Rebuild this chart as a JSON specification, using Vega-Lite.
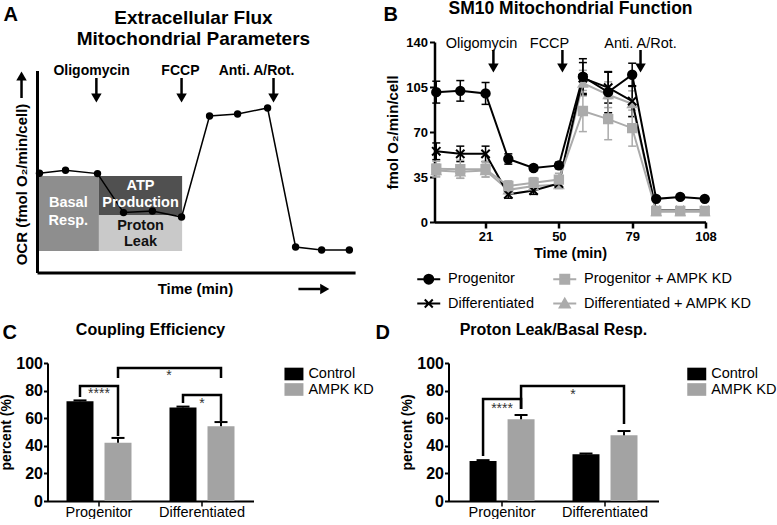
{
  "$schema": "https://vega.github.io/schema/vega-lite/v6.json",
  "background": "white",
  "padding": {"left": -0.5, "top": 0, "right": 0, "bottom": 0},
  "config": {
    "font": "Liberation Sans",
    "view": {"stroke": null},
    "mark": {"opacity": 1},
    "point": {"opacity": 1},
    "bar": {"opacity": 1},
    "tick": {"opacity": 1},
    "axis": {"domainColor": "#000", "tickColor": "#000", "labelColor": "#000", "titleColor": "#000", "grid": false, "labelFont": "Liberation Sans", "titleFont": "Liberation Sans", "labelOverlap": false},
    "legend": {"labelFont": "Liberation Sans", "labelColor": "#000", "padding": 0},
    "title": {"font": "Liberation Sans", "color": "#000"},
    "text": {"font": "Liberation Sans", "color": "#000"}
  },
  "datasets": {
    "aCurve": [
      {"time": 0.7, "ocr": 49.9}, {"time": 9.9, "ocr": 51.4}, {"time": 21.2, "ocr": 49.7},
      {"time": 30.4, "ocr": 30.2}, {"time": 40.6, "ocr": 31}, {"time": 50.9, "ocr": 28},
      {"time": 60.8, "ocr": 78.5}, {"time": 70.7, "ocr": 79.5}, {"time": 81.3, "ocr": 82.5},
      {"time": 91.2, "ocr": 13}, {"time": 100.4, "ocr": 11.5}, {"time": 110.2, "ocr": 11.5}
    ],
    "aBoxes": [
      {"part": "Basal Resp.", "t0": 0.1, "t1": 21.7, "o0": 11, "o1": 48.5},
      {"part": "ATP Production", "t0": 21.7, "t1": 51.1, "o0": 29, "o1": 48.5},
      {"part": "Proton Leak", "t0": 21.7, "t1": 51.1, "o0": 11, "o1": 29}
    ],
    "aBoxTextLight": [
      {"text": "Basal", "time": 10.9, "ocr": 35}, {"text": "Resp.", "time": 10.9, "ocr": 26},
      {"text": "ATP", "time": 36.4, "ocr": 43.5}, {"text": "Production", "time": 36.4, "ocr": 35}
    ],
    "aBoxTextDark": [
      {"text": "Proton", "time": 36.4, "ocr": 23.5}, {"text": "Leak", "time": 36.4, "ocr": 15.5}
    ],
    "aAxisLines": [
      {"t0": 0, "t1": 0, "o0": 0, "o1": 101},
      {"t0": 0, "t1": 112.4, "o0": 0, "o1": 0}
    ],
    "aShafts": [
      {"time": 20.8, "time2": 20.8, "ocr": 97.5, "ocr2": 89},
      {"time": 50.9, "time2": 50.9, "ocr": 97.5, "ocr2": 89},
      {"time": 83.4, "time2": 83.4, "ocr": 97.5, "ocr2": 89},
      {"time": -5.65, "time2": -5.65, "ocr": 87.5, "ocr2": 97},
      {"time": 92.2, "time2": 100, "ocr": -8, "ocr2": -8}
    ],
    "aHeads": [
      {"dir": "down", "time": 20.8, "ocr": 87.5}, {"dir": "down", "time": 50.9, "ocr": 87.5},
      {"dir": "down", "time": 83.4, "ocr": 87.5}, {"dir": "up", "time": -5.65, "ocr": 98.5},
      {"dir": "right", "time": 101.5, "ocr": -8}
    ],
    "aDrugText": [
      {"text": "Oligomycin", "time": 19.1, "ocr": 99}, {"text": "FCCP", "time": 50.5, "ocr": 99},
      {"text": "Anti. A/Rot.", "time": 77.4, "ocr": 99}
    ],
    "aTitle": [
      {"text": "Extracellular Flux", "time": 55.1, "ocr": 124.5},
      {"text": "Mitochondrial Parameters", "time": 55.1, "ocr": 114}
    ],
    "aYTitle": [{"text": "OCR (fmol O₂/min/cell)", "time": -5.65, "ocr": 44.25}],
    "aXTitle": [{"text": "Time (min)", "time": 55.8, "ocr": -8}],
    "aLetters": [{"text": "A", "time": -12, "ocr": 126.25}, {"text": "C", "time": -12.4, "ocr": -33}],
    "bSeries": [
      {"series": "Differentiated + AMPK KD", "time": 1.5, "ocr": 40, "sem": 5},
      {"series": "Differentiated + AMPK KD", "time": 11, "ocr": 39, "sem": 5},
      {"series": "Differentiated + AMPK KD", "time": 21, "ocr": 40, "sem": 5},
      {"series": "Differentiated + AMPK KD", "time": 30, "ocr": 25, "sem": 3},
      {"series": "Differentiated + AMPK KD", "time": 40, "ocr": 28, "sem": 3},
      {"series": "Differentiated + AMPK KD", "time": 50, "ocr": 29, "sem": 3},
      {"series": "Differentiated + AMPK KD", "time": 59.5, "ocr": 108, "sem": 10},
      {"series": "Differentiated + AMPK KD", "time": 69.5, "ocr": 99, "sem": 10},
      {"series": "Differentiated + AMPK KD", "time": 79, "ocr": 92, "sem": 10},
      {"series": "Differentiated + AMPK KD", "time": 88.5, "ocr": 8, "sem": 1},
      {"series": "Differentiated + AMPK KD", "time": 98, "ocr": 8, "sem": 1},
      {"series": "Differentiated + AMPK KD", "time": 107.7, "ocr": 8, "sem": 1},
      {"series": "Differentiated", "time": 1.5, "ocr": 55, "sem": 6.5},
      {"series": "Differentiated", "time": 11, "ocr": 53, "sem": 6},
      {"series": "Differentiated", "time": 21, "ocr": 53, "sem": 6},
      {"series": "Differentiated", "time": 30, "ocr": 21.5, "sem": 3},
      {"series": "Differentiated", "time": 40, "ocr": 24.5, "sem": 3},
      {"series": "Differentiated", "time": 50, "ocr": 30, "sem": 3},
      {"series": "Differentiated", "time": 59.5, "ocr": 112, "sem": 12},
      {"series": "Differentiated", "time": 69.5, "ocr": 104.5, "sem": 12},
      {"series": "Differentiated", "time": 79, "ocr": 94, "sem": 12},
      {"series": "Differentiated", "time": 88.5, "ocr": 9, "sem": 1},
      {"series": "Differentiated", "time": 98, "ocr": 9, "sem": 1},
      {"series": "Differentiated", "time": 107.7, "ocr": 9, "sem": 1},
      {"series": "Progenitor", "time": 1.5, "ocr": 101, "sem": 8.5},
      {"series": "Progenitor", "time": 11, "ocr": 102, "sem": 8},
      {"series": "Progenitor", "time": 21, "ocr": 100, "sem": 8.5},
      {"series": "Progenitor", "time": 30, "ocr": 49, "sem": 4},
      {"series": "Progenitor", "time": 40, "ocr": 42, "sem": 2},
      {"series": "Progenitor", "time": 50, "ocr": 44, "sem": 2.5},
      {"series": "Progenitor", "time": 59.5, "ocr": 113, "sem": 14},
      {"series": "Progenitor", "time": 69.5, "ocr": 101, "sem": 16},
      {"series": "Progenitor", "time": 79, "ocr": 114.5, "sem": 9},
      {"series": "Progenitor", "time": 88.5, "ocr": 18, "sem": 1.5},
      {"series": "Progenitor", "time": 98, "ocr": 19.5, "sem": 1.5},
      {"series": "Progenitor", "time": 107.7, "ocr": 18, "sem": 1.5},
      {"series": "Progenitor + AMPK KD", "time": 1.5, "ocr": 41.5, "sem": 5.8},
      {"series": "Progenitor + AMPK KD", "time": 11, "ocr": 41, "sem": 7},
      {"series": "Progenitor + AMPK KD", "time": 21, "ocr": 41, "sem": 6},
      {"series": "Progenitor + AMPK KD", "time": 30, "ocr": 28, "sem": 4},
      {"series": "Progenitor + AMPK KD", "time": 40, "ocr": 30.5, "sem": 4},
      {"series": "Progenitor + AMPK KD", "time": 50, "ocr": 33, "sem": 5},
      {"series": "Progenitor + AMPK KD", "time": 59.5, "ocr": 86.3, "sem": 16},
      {"series": "Progenitor + AMPK KD", "time": 69.5, "ocr": 80, "sem": 16},
      {"series": "Progenitor + AMPK KD", "time": 79, "ocr": 73, "sem": 14},
      {"series": "Progenitor + AMPK KD", "time": 88.5, "ocr": 8.6, "sem": 2},
      {"series": "Progenitor + AMPK KD", "time": 98, "ocr": 8.6, "sem": 2},
      {"series": "Progenitor + AMPK KD", "time": 107.7, "ocr": 8.6, "sem": 2}
    ],
    "bDrugs": [{"drug": "Oligomycin", "time": 24.1}, {"drug": "FCCP", "time": 51.4}, {"drug": "Anti. A/Rot.", "time": 82.3}],
    "bDrugText": [{"text": "Oligomycin", "time": 19.4}, {"text": "FCCP", "time": 46.3}, {"text": "Anti. A/Rot.", "time": 82.3}],
    "bTitle": [{"text": "SM10 Mitochondrial Function", "time": 54.6, "ocr": 161.7}],
    "bLetters": [{"text": "B", "time": -19.4, "ocr": 156.7}, {"text": "D", "time": -22.5, "ocr": -91}],
    "cBars": [
      {"group": "Progenitor", "cond": "Control", "v": 72.3, "hi": 72.9},
      {"group": "Progenitor", "cond": "AMPK KD", "v": 42.2, "hi": 45.7},
      {"group": "Differentiated", "cond": "Control", "v": 67.8, "hi": 68.4},
      {"group": "Differentiated", "cond": "AMPK KD", "v": 54.2, "hi": 57.2}
    ],
    "dBars": [
      {"group": "Progenitor", "cond": "Control", "v": 29, "hi": 29.6},
      {"group": "Progenitor", "cond": "AMPK KD", "v": 59.2, "hi": 62.3},
      {"group": "Differentiated", "cond": "Control", "v": 33.8, "hi": 34.4},
      {"group": "Differentiated", "cond": "AMPK KD", "v": 47.6, "hi": 50.7}
    ],
    "cBrackets": [
      {"br": 1, "k": 1, "group": "Progenitor", "cond": "Control", "v": 75.4},
      {"br": 1, "k": 2, "group": "Progenitor", "cond": "Control", "v": 83.3},
      {"br": 1, "k": 3, "group": "Progenitor", "cond": "AMPK KD", "v": 83.3},
      {"br": 1, "k": 4, "group": "Progenitor", "cond": "AMPK KD", "v": 47.1},
      {"br": 2, "k": 1, "group": "Progenitor", "cond": "AMPK KD", "v": 89.1},
      {"br": 2, "k": 2, "group": "Progenitor", "cond": "AMPK KD", "v": 96.4},
      {"br": 2, "k": 3, "group": "Differentiated", "cond": "AMPK KD", "v": 96.4},
      {"br": 2, "k": 4, "group": "Differentiated", "cond": "AMPK KD", "v": 89.1},
      {"br": 3, "k": 1, "group": "Differentiated", "cond": "Control", "v": 71},
      {"br": 3, "k": 2, "group": "Differentiated", "cond": "Control", "v": 76.8},
      {"br": 3, "k": 3, "group": "Differentiated", "cond": "AMPK KD", "v": 76.8},
      {"br": 3, "k": 4, "group": "Differentiated", "cond": "AMPK KD", "v": 58}
    ],
    "dBrackets": [
      {"br": 1, "k": 1, "group": "Progenitor", "cond": "Control", "v": 32.6},
      {"br": 1, "k": 2, "group": "Progenitor", "cond": "Control", "v": 73.9},
      {"br": 1, "k": 3, "group": "Progenitor", "cond": "AMPK KD", "v": 73.9},
      {"br": 1, "k": 4, "group": "Progenitor", "cond": "AMPK KD", "v": 66.7},
      {"br": 2, "k": 1, "group": "Progenitor", "cond": "AMPK KD", "v": 66.7},
      {"br": 2, "k": 2, "group": "Progenitor", "cond": "AMPK KD", "v": 83.3},
      {"br": 2, "k": 3, "group": "Differentiated", "cond": "AMPK KD", "v": 83.3},
      {"br": 2, "k": 4, "group": "Differentiated", "cond": "AMPK KD", "v": 55.8}
    ],
    "cStars": [{"group": "Progenitor", "text": "****", "v": 77.6}, {"group": "Differentiated", "text": "*", "v": 70.2}],
    "cStarsX": [{"group": "Differentiated", "cond": "Control", "text": "*", "v": 90.7}],
    "dStars": [{"group": "Progenitor", "text": "****", "v": 66.8}],
    "dStarsX": [{"group": "Differentiated", "cond": "Control", "text": "*", "v": 76.9}]
  },
  "vconcat": [
    {
      "hconcat": [
        {
          "width": 308,
          "height": 231,
          "layer": [
            {
              "data": {"name": "aBoxes"},
              "mark": {"type": "rect"},
              "encoding": {
                "x": {"field": "t0", "type": "quantitative", "scale": {"domain": [3.53, 112.37], "nice": false, "zero": false}, "axis": null},
                "x2": {"field": "t1"},
                "y": {"field": "o0", "type": "quantitative", "scale": {"domain": [0, 115.5], "nice": false, "zero": false}, "axis": null},
                "y2": {"field": "o1"},
                "color": {"field": "part", "type": "nominal", "scale": {"domain": ["Basal Resp.", "ATP Production", "Proton Leak"], "range": ["#8e8e8e", "#505050", "#c9c9c9"]}, "legend": null}
              }
            },
            {
              "data": {"name": "aAxisLines"},
              "mark": {"type": "rule", "color": "#000", "strokeWidth": 3},
              "encoding": {
                "x": {"field": "t0", "type": "quantitative", "scale": {"domain": [3.53, 112.37], "nice": false, "zero": false}, "axis": null},
                "x2": {"field": "t1"},
                "y": {"field": "o0", "type": "quantitative", "scale": {"domain": [0, 115.5], "nice": false, "zero": false}, "axis": null},
                "y2": {"field": "o1"}
              }
            },
            {
              "data": {"name": "aCurve"},
              "mark": {"type": "line", "color": "#000", "strokeWidth": 1.5},
              "encoding": {
                "x": {"field": "time", "type": "quantitative", "scale": {"domain": [3.53, 112.37], "nice": false, "zero": false}, "axis": null},
                "y": {"field": "ocr", "type": "quantitative", "scale": {"domain": [0, 115.5], "nice": false, "zero": false}, "axis": null}
              }
            },
            {
              "data": {"name": "aCurve"},
              "mark": {"type": "point", "shape": "circle", "filled": true, "color": "#000", "size": 55, "opacity": 1},
              "encoding": {
                "x": {"field": "time", "type": "quantitative", "scale": {"domain": [3.53, 112.37], "nice": false, "zero": false}, "axis": null},
                "y": {"field": "ocr", "type": "quantitative", "scale": {"domain": [0, 115.5], "nice": false, "zero": false}, "axis": null}
              }
            },
            {
              "data": {"name": "aShafts"},
              "mark": {"type": "rule", "color": "#000", "strokeWidth": 2.5},
              "encoding": {
                "x": {"field": "time", "type": "quantitative", "scale": {"domain": [3.53, 112.37], "nice": false, "zero": false}, "axis": null},
                "x2": {"field": "time2"},
                "y": {"field": "ocr", "type": "quantitative", "scale": {"domain": [0, 115.5], "nice": false, "zero": false}, "axis": null},
                "y2": {"field": "ocr2"}
              }
            },
            {
              "data": {"name": "aHeads"},
              "mark": {"type": "point", "filled": true, "color": "#000", "size": 110, "opacity": 1},
              "encoding": {
                "x": {"field": "time", "type": "quantitative", "scale": {"domain": [3.53, 112.37], "nice": false, "zero": false}, "axis": null},
                "y": {"field": "ocr", "type": "quantitative", "scale": {"domain": [0, 115.5], "nice": false, "zero": false}, "axis": null},
                "shape": {"field": "dir", "type": "nominal", "scale": {"domain": ["down", "up", "right"], "range": ["triangle-down", "triangle-up", "triangle-right"]}, "legend": null}
              }
            },
            {
              "data": {"name": "aBoxTextLight"},
              "mark": {"type": "text", "fontSize": 14.5, "fontWeight": "bold", "color": "#ffffff", "align": "center", "baseline": "middle"},
              "encoding": {
                "x": {"field": "time", "type": "quantitative", "scale": {"domain": [3.53, 112.37], "nice": false, "zero": false}, "axis": null},
                "y": {"field": "ocr", "type": "quantitative", "scale": {"domain": [0, 115.5], "nice": false, "zero": false}, "axis": null},
                "text": {"field": "text"}
              }
            },
            {
              "data": {"name": "aBoxTextDark"},
              "mark": {"type": "text", "fontSize": 14.5, "fontWeight": "bold", "color": "#111111", "align": "center", "baseline": "middle"},
              "encoding": {
                "x": {"field": "time", "type": "quantitative", "scale": {"domain": [3.53, 112.37], "nice": false, "zero": false}, "axis": null},
                "y": {"field": "ocr", "type": "quantitative", "scale": {"domain": [0, 115.5], "nice": false, "zero": false}, "axis": null},
                "text": {"field": "text"}
              }
            },
            {
              "data": {"name": "aDrugText"},
              "mark": {"type": "text", "fontSize": 14, "fontWeight": "bold", "align": "center", "baseline": "alphabetic"},
              "encoding": {
                "x": {"field": "time", "type": "quantitative", "scale": {"domain": [3.53, 112.37], "nice": false, "zero": false}, "axis": null},
                "y": {"field": "ocr", "type": "quantitative", "scale": {"domain": [0, 115.5], "nice": false, "zero": false}, "axis": null},
                "text": {"field": "text"}
              }
            },
            {
              "data": {"name": "aTitle"},
              "mark": {"type": "text", "fontSize": 19, "fontWeight": "bold", "align": "center", "baseline": "alphabetic"},
              "encoding": {
                "x": {"field": "time", "type": "quantitative", "scale": {"domain": [3.53, 112.37], "nice": false, "zero": false}, "axis": null},
                "y": {"field": "ocr", "type": "quantitative", "scale": {"domain": [0, 115.5], "nice": false, "zero": false}, "axis": null},
                "text": {"field": "text"}
              }
            },
            {
              "data": {"name": "aYTitle"},
              "mark": {"type": "text", "fontSize": 15, "fontWeight": "bold", "align": "center", "baseline": "middle", "angle": 270},
              "encoding": {
                "x": {"field": "time", "type": "quantitative", "scale": {"domain": [3.53, 112.37], "nice": false, "zero": false}, "axis": null},
                "y": {"field": "ocr", "type": "quantitative", "scale": {"domain": [0, 115.5], "nice": false, "zero": false}, "axis": null},
                "text": {"field": "text"}
              }
            },
            {
              "data": {"name": "aXTitle"},
              "mark": {"type": "text", "fontSize": 15, "fontWeight": "bold", "align": "center", "baseline": "middle"},
              "encoding": {
                "x": {"field": "time", "type": "quantitative", "scale": {"domain": [3.53, 112.37], "nice": false, "zero": false}, "axis": null},
                "y": {"field": "ocr", "type": "quantitative", "scale": {"domain": [0, 115.5], "nice": false, "zero": false}, "axis": null},
                "text": {"field": "text"}
              }
            },
            {
              "data": {"name": "aLetters"},
              "mark": {"type": "text", "fontSize": 20, "fontWeight": "bold", "align": "left", "baseline": "alphabetic"},
              "encoding": {
                "x": {"field": "time", "type": "quantitative", "scale": {"domain": [3.53, 112.37], "nice": false, "zero": false}, "axis": null},
                "y": {"field": "ocr", "type": "quantitative", "scale": {"domain": [0, 115.5], "nice": false, "zero": false}, "axis": null},
                "text": {"field": "text"}
              }
            }
          ]
        },
        {
          "width": 271,
          "height": 180,
          "layer": [
            {
              "data": {"name": "bSeries"},
              "mark": {"type": "errorbar", "ticks": true, "size": 8, "thickness": 1.5},
              "encoding": {
                "x": {"field": "time", "type": "quantitative", "title": "Time (min)", "scale": {"domain": [0.8, 108], "nice": false, "zero": false}},
                "y": {"field": "ocr", "type": "quantitative", "title": "fmol O₂/min/cell", "scale": {"domain": [0, 140], "nice": false, "zero": false}},
                "yError": {"field": "sem"},
                "color": {"field": "series", "type": "nominal", "scale": {"domain": ["Progenitor", "Progenitor + AMPK KD", "Differentiated", "Differentiated + AMPK KD"], "range": ["#000000", "#ababab", "#000000", "#ababab"]}, "legend": null}
              }
            },
            {
              "data": {"name": "bSeries"},
              "mark": {"type": "line", "strokeWidth": 2},
              "encoding": {
                "x": {"field": "time", "type": "quantitative", "title": "Time (min)", "scale": {"domain": [0.8, 108], "nice": false, "zero": false},
                  "axis": {"values": [21, 50, 79, 108], "title": "Time (min)", "titleFontSize": 14.5, "titleFontWeight": "bold", "labelFontSize": 13, "labelFontWeight": "bold", "domainWidth": 2.5, "tickWidth": 2.5, "tickSize": 6, "labelPadding": 2, "titlePadding": 3, "labelFlush": false}},
                "y": {"field": "ocr", "type": "quantitative", "title": "fmol O₂/min/cell", "scale": {"domain": [0, 140], "nice": false, "zero": false},
                  "axis": {"values": [0, 35, 70, 105, 140], "title": "fmol O₂/min/cell", "titleFontSize": 15, "titleFontWeight": "bold", "labelFontSize": 13, "labelFontWeight": "bold", "domainWidth": 2.5, "tickWidth": 2, "tickSize": 5, "labelPadding": 2, "titlePadding": 5}},
                "color": {"field": "series", "type": "nominal", "scale": {"domain": ["Progenitor", "Progenitor + AMPK KD", "Differentiated", "Differentiated + AMPK KD"], "range": ["#000000", "#ababab", "#000000", "#ababab"]}, "legend": null}
              }
            },
            {
              "data": {"name": "bSeries"},
              "mark": {"type": "point", "filled": true, "size": 70, "strokeWidth": 2, "opacity": 1},
              "encoding": {
                "x": {"field": "time", "type": "quantitative", "title": "Time (min)", "scale": {"domain": [0.8, 108], "nice": false, "zero": false}},
                "y": {"field": "ocr", "type": "quantitative", "title": "fmol O₂/min/cell", "scale": {"domain": [0, 140], "nice": false, "zero": false}},
                "fill": {"field": "series", "type": "nominal", "scale": {"domain": ["Progenitor", "Progenitor + AMPK KD", "Differentiated", "Differentiated + AMPK KD"], "range": ["#000000", "#ababab", "#000000", "#ababab"]}, "legend": null},
                "stroke": {"field": "series", "type": "nominal", "scale": {"domain": ["Progenitor", "Progenitor + AMPK KD", "Differentiated", "Differentiated + AMPK KD"], "range": ["#000000", "#ababab", "#000000", "#ababab"]}, "legend": null},
                "shape": {"field": "series", "type": "nominal", "scale": {"domain": ["Progenitor", "Progenitor + AMPK KD", "Differentiated", "Differentiated + AMPK KD"], "range": ["circle", "square", "M-1,-1L1,1M-1,1L1,-1", "triangle-up"]}, "legend": null}
              }
            },
            {
              "data": {"name": "bDrugs"},
              "mark": {"type": "rule", "color": "#000", "strokeWidth": 2.5},
              "encoding": {
                "x": {"field": "time", "type": "quantitative", "title": "Time (min)", "scale": {"domain": [0.8, 108], "nice": false, "zero": false}},
                "y": {"datum": 133.8, "type": "quantitative", "scale": {"domain": [0, 140], "nice": false, "zero": false}},
                "y2": {"datum": 122.1}
              }
            },
            {
              "data": {"name": "bDrugs"},
              "mark": {"type": "point", "shape": "triangle-down", "filled": true, "color": "#000", "size": 110, "opacity": 1},
              "encoding": {
                "x": {"field": "time", "type": "quantitative", "title": "Time (min)", "scale": {"domain": [0.8, 108], "nice": false, "zero": false}},
                "y": {"datum": 119.8, "type": "quantitative", "scale": {"domain": [0, 140], "nice": false, "zero": false}}
              }
            },
            {
              "data": {"name": "bDrugText"},
              "mark": {"type": "text", "fontSize": 14.5, "align": "center", "baseline": "alphabetic"},
              "encoding": {
                "x": {"field": "time", "type": "quantitative", "title": "Time (min)", "scale": {"domain": [0.8, 108], "nice": false, "zero": false}},
                "y": {"datum": 135.6, "type": "quantitative", "scale": {"domain": [0, 140], "nice": false, "zero": false}},
                "text": {"field": "text"}
              }
            },
            {
              "data": {"name": "bTitle"},
              "mark": {"type": "text", "fontSize": 17.5, "fontWeight": "bold", "align": "center", "baseline": "alphabetic"},
              "encoding": {
                "x": {"field": "time", "type": "quantitative", "title": "Time (min)", "scale": {"domain": [0.8, 108], "nice": false, "zero": false}},
                "y": {"field": "ocr", "type": "quantitative", "title": "fmol O₂/min/cell", "scale": {"domain": [0, 140], "nice": false, "zero": false}},
                "text": {"field": "text"}
              }
            },
            {
              "data": {"name": "bLetters"},
              "mark": {"type": "text", "fontSize": 20, "fontWeight": "bold", "align": "left", "baseline": "alphabetic"},
              "encoding": {
                "x": {"field": "time", "type": "quantitative", "title": "Time (min)", "scale": {"domain": [0.8, 108], "nice": false, "zero": false}},
                "y": {"field": "ocr", "type": "quantitative", "title": "fmol O₂/min/cell", "scale": {"domain": [0, 140], "nice": false, "zero": false}},
                "text": {"field": "text"}
              }
            },
            {
              "data": {"name": "bSeries"},
              "transform": [{"filter": "false"}],
              "mark": {"type": "point", "filled": true, "size": 100, "strokeWidth": 2, "opacity": 1},
              "encoding": {
                "x": {"field": "time", "type": "quantitative", "title": "Time (min)", "scale": {"domain": [0.8, 108], "nice": false, "zero": false}},
                "y": {"field": "ocr", "type": "quantitative", "title": "fmol O₂/min/cell", "scale": {"domain": [0, 140], "nice": false, "zero": false}},
                "fill": {"field": "series", "type": "nominal", "scale": {"domain": ["Progenitor", "Progenitor + AMPK KD", "Differentiated", "Differentiated + AMPK KD"], "range": ["#000000", "#ababab", "#000000", "#ababab"]},
                  "legend": {"title": null, "orient": "none", "legendX": -13, "legendY": 229.75, "direction": "horizontal", "columns": 2, "columnPadding": 14, "rowPadding": 6.5, "labelFontSize": 14.5, "labelOffset": 12, "labelLimit": 300, "symbolSize": 100, "symbolStrokeWidth": 2}},
                "stroke": {"field": "series", "type": "nominal", "scale": {"domain": ["Progenitor", "Progenitor + AMPK KD", "Differentiated", "Differentiated + AMPK KD"], "range": ["#000000", "#ababab", "#000000", "#ababab"]},
                  "legend": {"title": null, "orient": "none", "legendX": -13, "legendY": 229.75, "direction": "horizontal", "columns": 2, "columnPadding": 14, "rowPadding": 6.5, "labelFontSize": 14.5, "labelOffset": 12, "labelLimit": 300, "symbolSize": 100, "symbolStrokeWidth": 2}},
                "shape": {"field": "series", "type": "nominal", "scale": {"domain": ["Progenitor", "Progenitor + AMPK KD", "Differentiated", "Differentiated + AMPK KD"], "range": ["M-2.3,0H2.3M0.9,0A0.9,0.9,0,1,1,-0.9,0A0.9,0.9,0,1,1,0.9,0Z", "M-2.3,0H2.3M-0.9,-0.9H0.9V0.9H-0.9Z", "M-2.3,0H2.3M-0.8,-0.8L0.8,0.8M-0.8,0.8L0.8,-0.8", "M-2.3,0H2.3M0,-0.95L1,0.8H-1Z"]},
                  "legend": {"title": null, "orient": "none", "legendX": -13, "legendY": 229.75, "direction": "horizontal", "columns": 2, "columnPadding": 14, "rowPadding": 6.5, "labelFontSize": 14.5, "labelOffset": 12, "labelLimit": 300, "symbolSize": 100, "symbolStrokeWidth": 2}}
              }
            }
          ],
          "resolve": {"scale": {"fill": "independent", "stroke": "independent", "shape": "independent"}}
        }
      ],
      "spacing": 79,
      "bounds": "flush",
      "resolve": {"scale": {"color": "independent", "fill": "independent", "stroke": "independent", "shape": "independent"}}
    },
    {
      "hconcat": [
        {
          "width": 206,
          "height": 138,
          "title": {"text": "Coupling Efficiency", "fontSize": 16, "fontWeight": "bold", "frame": "group", "offset": 17, "anchor": "middle"},
          "layer": [
            {
              "data": {"name": "cBars"},
              "mark": {"type": "bar", "opacity": 1},
              "encoding": {
                "x": {"field": "group", "type": "nominal", "scale": {"domain": ["Progenitor", "Differentiated"], "paddingInner": 0, "paddingOuter": 0},
                  "axis": {"title": null, "labelFontSize": 14.5, "labelAngle": 0, "domainWidth": 2, "tickWidth": 1.5, "tickSize": 5, "labelPadding": -1}},
                "xOffset": {"field": "cond", "type": "nominal", "scale": {"domain": ["Control", "AMPK KD"], "paddingInner": 0.29, "paddingOuter": 0.5}},
                "y": {"field": "v", "type": "quantitative", "scale": {"domain": [0, 100], "nice": false},
                  "axis": {"values": [0, 20, 40, 60, 80, 100], "tickCount": 6, "title": "percent (%)", "titleFontSize": 14, "titleFontWeight": "bold", "labelFontSize": 16, "labelFontWeight": "bold", "domainWidth": 2, "tickWidth": 2, "tickSize": 4, "labelPadding": 1, "titlePadding": 2, "labelOverlap": false}},
                "color": {"field": "cond", "type": "nominal", "scale": {"domain": ["Control", "AMPK KD"], "range": ["#000000", "#a3a3a3"]},
                  "legend": {"title": null, "orient": "none", "legendX": 239.2, "legendY": 3.75, "labelFontSize": 14.5, "labelOffset": 7.2, "symbolType": "M-1.5,-1H1.5V1H-1.5Z", "symbolSize": 160, "symbolStrokeWidth": 0, "rowPadding": 0.5, "labelLimit": 200}}
              }
            },
            {
              "data": {"name": "cBars"},
              "mark": {"type": "rule", "color": "#000", "strokeWidth": 2},
              "encoding": {
                "x": {"field": "group", "type": "nominal"},
                "xOffset": {"field": "cond", "type": "nominal"},
                "y": {"field": "v", "type": "quantitative", "title": "percent (%)",
                  "axis": {"values": [0, 20, 40, 60, 80, 100], "tickCount": 6, "title": "percent (%)", "titleFontSize": 14, "titleFontWeight": "bold", "labelFontSize": 16, "labelFontWeight": "bold", "domainWidth": 2, "tickWidth": 2, "tickSize": 4, "labelPadding": 1, "titlePadding": 2, "labelOverlap": false}},
                "y2": {"field": "hi"}
              }
            },
            {
              "data": {"name": "cBars"},
              "mark": {"type": "tick", "color": "#000", "size": 13, "thickness": 2, "opacity": 1},
              "encoding": {
                "x": {"field": "group", "type": "nominal"},
                "xOffset": {"field": "cond", "type": "nominal"},
                "y": {"field": "hi", "type": "quantitative", "title": "percent (%)",
                  "axis": {"values": [0, 20, 40, 60, 80, 100], "tickCount": 6, "title": "percent (%)", "titleFontSize": 14, "titleFontWeight": "bold", "labelFontSize": 16, "labelFontWeight": "bold", "domainWidth": 2, "tickWidth": 2, "tickSize": 4, "labelPadding": 1, "titlePadding": 2, "labelOverlap": false}}
              }
            },
            {
              "data": {"name": "cBrackets"},
              "mark": {"type": "line", "color": "#000", "strokeWidth": 2.5, "strokeJoin": "miter"},
              "encoding": {
                "x": {"field": "group", "type": "nominal"},
                "xOffset": {"field": "cond", "type": "nominal"},
                "y": {"field": "v", "type": "quantitative", "title": "percent (%)",
                  "axis": {"values": [0, 20, 40, 60, 80, 100], "tickCount": 6, "title": "percent (%)", "titleFontSize": 14, "titleFontWeight": "bold", "labelFontSize": 16, "labelFontWeight": "bold", "domainWidth": 2, "tickWidth": 2, "tickSize": 4, "labelPadding": 1, "titlePadding": 2, "labelOverlap": false}},
                "detail": {"field": "br"},
                "order": {"field": "k", "type": "quantitative"}
              }
            },
            {
              "data": {"name": "cStars"},
              "mark": {"type": "text", "fontSize": 14, "color": "#333333", "align": "center", "baseline": "middle"},
              "encoding": {
                "x": {"field": "group", "type": "nominal"},
                "y": {"field": "v", "type": "quantitative", "title": "percent (%)",
                  "axis": {"values": [0, 20, 40, 60, 80, 100], "tickCount": 6, "title": "percent (%)", "titleFontSize": 14, "titleFontWeight": "bold", "labelFontSize": 16, "labelFontWeight": "bold", "domainWidth": 2, "tickWidth": 2, "tickSize": 4, "labelPadding": 1, "titlePadding": 2, "labelOverlap": false}},
                "text": {"field": "text"}
              }
            },
            {
              "data": {"name": "cStarsX"},
              "mark": {"type": "text", "fontSize": 14, "color": "#333333", "align": "center", "baseline": "middle", "dx": -14},
              "encoding": {
                "x": {"field": "group", "type": "nominal"},
                "xOffset": {"field": "cond", "type": "nominal"},
                "y": {"field": "v", "type": "quantitative", "title": "percent (%)",
                  "axis": {"values": [0, 20, 40, 60, 80, 100], "tickCount": 6, "title": "percent (%)", "titleFontSize": 14, "titleFontWeight": "bold", "labelFontSize": 16, "labelFontWeight": "bold", "domainWidth": 2, "tickWidth": 2, "tickSize": 4, "labelPadding": 1, "titlePadding": 2, "labelOverlap": false}},
                "text": {"field": "text"}
              }
            }
          ]
        },
        {
          "width": 210,
          "height": 138,
          "title": {"text": "Proton Leak/Basal Resp.", "fontSize": 16, "fontWeight": "bold", "frame": "group", "offset": 17, "anchor": "middle"},
          "layer": [
            {
              "data": {"name": "dBars"},
              "mark": {"type": "bar", "opacity": 1},
              "encoding": {
                "x": {"field": "group", "type": "nominal", "scale": {"domain": ["Progenitor", "Differentiated"], "paddingInner": 0, "paddingOuter": 0.02},
                  "axis": {"title": null, "labelFontSize": 14.5, "labelAngle": 0, "domainWidth": 2, "tickWidth": 1.5, "tickSize": 5, "labelPadding": -1}},
                "xOffset": {"field": "cond", "type": "nominal", "scale": {"domain": ["Control", "AMPK KD"], "paddingInner": 0.29, "paddingOuter": 0.5}},
                "y": {"field": "v", "type": "quantitative", "scale": {"domain": [0, 100], "nice": false},
                  "axis": {"values": [0, 20, 40, 60, 80, 100], "tickCount": 6, "title": "percent (%)", "titleFontSize": 14, "titleFontWeight": "bold", "labelFontSize": 16, "labelFontWeight": "bold", "domainWidth": 2, "tickWidth": 2, "tickSize": 4, "labelPadding": 1, "titlePadding": 2, "labelOverlap": false}},
                "color": {"field": "cond", "type": "nominal", "scale": {"domain": ["Control", "AMPK KD"], "range": ["#000000", "#a3a3a3"]},
                  "legend": {"title": null, "orient": "none", "legendX": 241, "legendY": 3.75, "labelFontSize": 14.5, "labelOffset": 7.2, "symbolType": "M-1.5,-1H1.5V1H-1.5Z", "symbolSize": 160, "symbolStrokeWidth": 0, "rowPadding": 0.5, "labelLimit": 200}}
              }
            },
            {
              "data": {"name": "dBars"},
              "mark": {"type": "rule", "color": "#000", "strokeWidth": 2},
              "encoding": {
                "x": {"field": "group", "type": "nominal"},
                "xOffset": {"field": "cond", "type": "nominal"},
                "y": {"field": "v", "type": "quantitative", "title": "percent (%)",
                  "axis": {"values": [0, 20, 40, 60, 80, 100], "tickCount": 6, "title": "percent (%)", "titleFontSize": 14, "titleFontWeight": "bold", "labelFontSize": 16, "labelFontWeight": "bold", "domainWidth": 2, "tickWidth": 2, "tickSize": 4, "labelPadding": 1, "titlePadding": 2, "labelOverlap": false}},
                "y2": {"field": "hi"}
              }
            },
            {
              "data": {"name": "dBars"},
              "mark": {"type": "tick", "color": "#000", "size": 13, "thickness": 2, "opacity": 1},
              "encoding": {
                "x": {"field": "group", "type": "nominal"},
                "xOffset": {"field": "cond", "type": "nominal"},
                "y": {"field": "hi", "type": "quantitative", "title": "percent (%)",
                  "axis": {"values": [0, 20, 40, 60, 80, 100], "tickCount": 6, "title": "percent (%)", "titleFontSize": 14, "titleFontWeight": "bold", "labelFontSize": 16, "labelFontWeight": "bold", "domainWidth": 2, "tickWidth": 2, "tickSize": 4, "labelPadding": 1, "titlePadding": 2, "labelOverlap": false}}
              }
            },
            {
              "data": {"name": "dBrackets"},
              "mark": {"type": "line", "color": "#000", "strokeWidth": 2.5, "strokeJoin": "miter"},
              "encoding": {
                "x": {"field": "group", "type": "nominal"},
                "xOffset": {"field": "cond", "type": "nominal"},
                "y": {"field": "v", "type": "quantitative", "title": "percent (%)",
                  "axis": {"values": [0, 20, 40, 60, 80, 100], "tickCount": 6, "title": "percent (%)", "titleFontSize": 14, "titleFontWeight": "bold", "labelFontSize": 16, "labelFontWeight": "bold", "domainWidth": 2, "tickWidth": 2, "tickSize": 4, "labelPadding": 1, "titlePadding": 2, "labelOverlap": false}},
                "detail": {"field": "br"},
                "order": {"field": "k", "type": "quantitative"}
              }
            },
            {
              "data": {"name": "dStars"},
              "mark": {"type": "text", "fontSize": 14, "color": "#333333", "align": "center", "baseline": "middle"},
              "encoding": {
                "x": {"field": "group", "type": "nominal"},
                "y": {"field": "v", "type": "quantitative", "title": "percent (%)",
                  "axis": {"values": [0, 20, 40, 60, 80, 100], "tickCount": 6, "title": "percent (%)", "titleFontSize": 14, "titleFontWeight": "bold", "labelFontSize": 16, "labelFontWeight": "bold", "domainWidth": 2, "tickWidth": 2, "tickSize": 4, "labelPadding": 1, "titlePadding": 2, "labelOverlap": false}},
                "text": {"field": "text"}
              }
            },
            {
              "data": {"name": "dStarsX"},
              "mark": {"type": "text", "fontSize": 14, "color": "#333333", "align": "center", "baseline": "middle", "dx": -13},
              "encoding": {
                "x": {"field": "group", "type": "nominal"},
                "xOffset": {"field": "cond", "type": "nominal"},
                "y": {"field": "v", "type": "quantitative", "title": "percent (%)",
                  "axis": {"values": [0, 20, 40, 60, 80, 100], "tickCount": 6, "title": "percent (%)", "titleFontSize": 14, "titleFontWeight": "bold", "labelFontSize": 16, "labelFontWeight": "bold", "domainWidth": 2, "tickWidth": 2, "tickSize": 4, "labelPadding": 1, "titlePadding": 2, "labelOverlap": false}},
                "text": {"field": "text"}
              }
            }
          ]
        }
      ],
      "spacing": 195,
      "bounds": "flush",
      "resolve": {"scale": {"color": "independent"}}
    }
  ],
  "spacing": 321,
  "bounds": "flush",
  "resolve": {"scale": {"color": "independent", "fill": "independent", "stroke": "independent", "shape": "independent"}}
}
